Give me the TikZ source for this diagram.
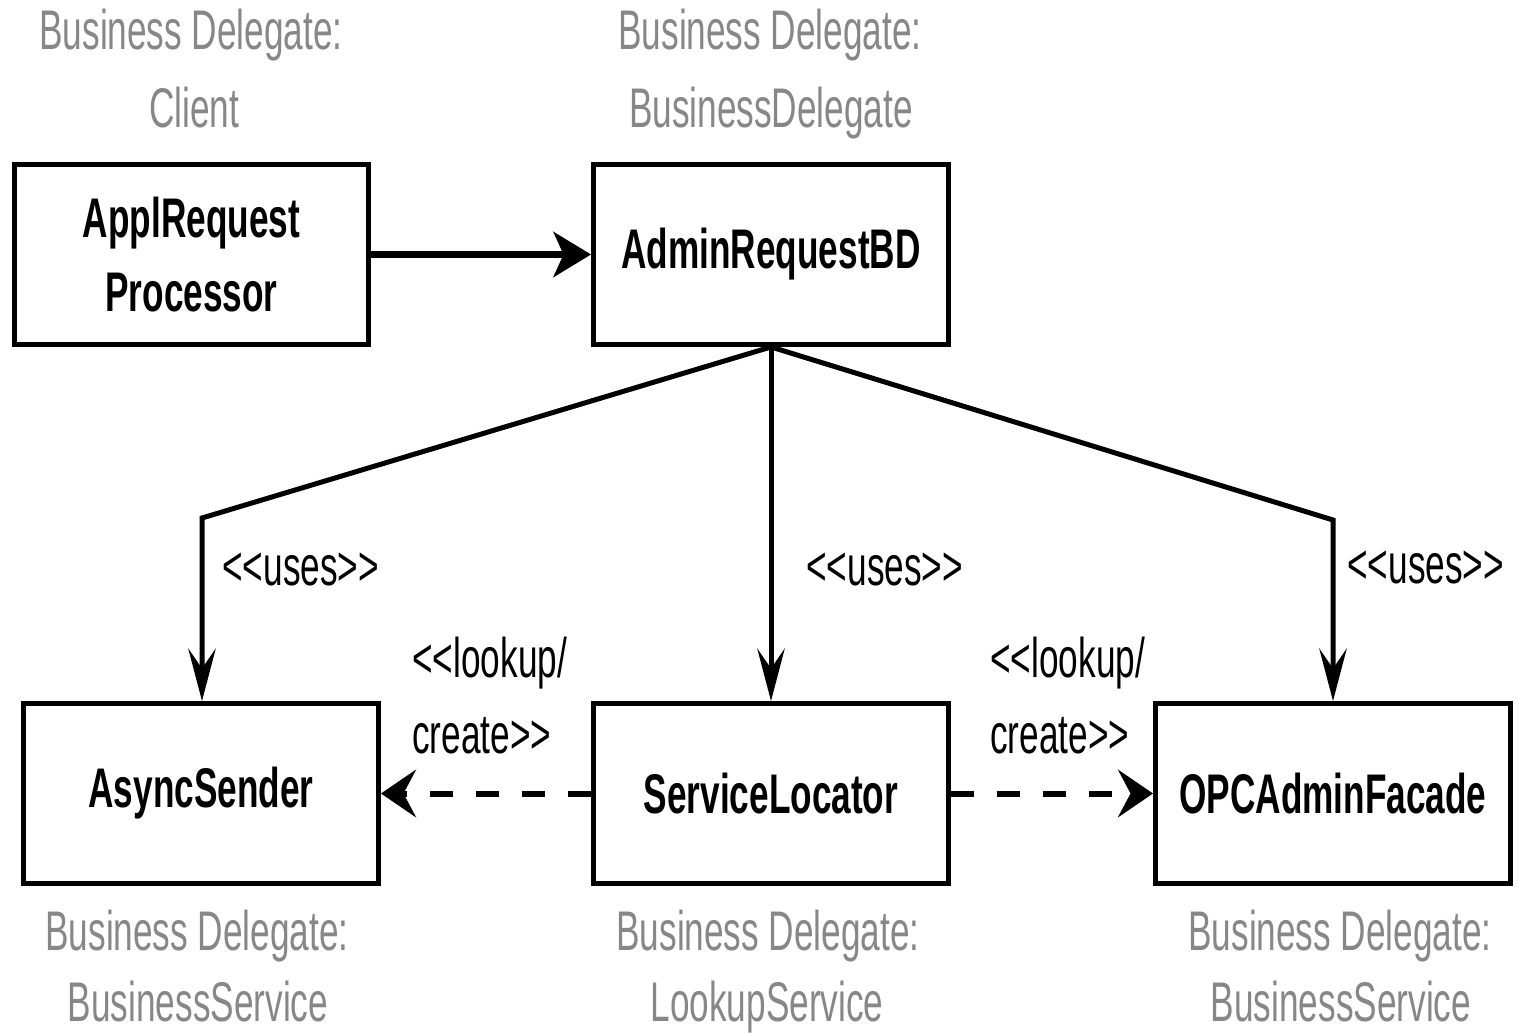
\documentclass[tikz,border=0pt]{standalone}
\usepackage{fontspec}
\setmainfont{Liberation Sans}
\newfontfamily\plainfont{Liberation Sans}
\usetikzlibrary{arrows.meta}
\definecolor{lblgray}{RGB}{135,135,135}
\newcommand{\nw}[1]{\scalebox{0.63}[1]{#1}}
\begin{document}
\begin{tikzpicture}[x=0.02cm, y=-0.02cm,
  boxnode/.style={draw, line width=0.1cm, minimum width=7.1cm, minimum height=3.6cm,
    inner sep=0pt, align=center, font=\fontsize{31.8pt}{42.5pt}\selectfont\bfseries},
  lbl/.style={text=lblgray, inner sep=0pt, anchor=base, font=\fontsize{31.8pt}{42.5pt}\selectfont},
  stereo/.style={text=black, inner sep=0pt, anchor=base west, font=\plainfont\fontsize{31.8pt}{42.5pt}\selectfont},
  usearrow/.style={line width=0.1cm, -{Stealth[length=1.05cm,width=0.55cm,inset=0.4cm]}},
  mainarrow/.style={line width=0.15cm, -{Stealth[length=0.75cm,width=0.9cm,inset=0.2cm]}},
  dasharrow/.style={line width=0.12cm, dash pattern=on 0.46cm off 0.46cm,
    -{Stealth[length=0.7cm,width=0.95cm,inset=0.25cm]}}
]
\useasboundingbox (0,0) rectangle (1518,1033);

% boxes
\node[boxnode] (appl)    at (191.5,254.5) {\nw{ApplRequest}\\\nw{Processor}};
\node[boxnode] (admin)   at (771,254.5)   {\nw{AdminRequestBD}};
\node[boxnode] (async)   at (201,793.5)   {\nw{AsyncSender}};
\node[boxnode] (locator) at (771,793.5)   {\nw{ServiceLocator}};
\node[boxnode] (facade)  at (1333,793.5)  {\nw{OPCAdminFacade}};

% gray role labels
\node[lbl] (l1a) at (191,50)   {\nw{Business Delegate:}};
\node[lbl] (l1b) at (194,128)  {\nw{Client}};
\node[lbl] (l2a) at (770,50)   {\nw{Business Delegate:}};
\node[lbl] (l2b) at (771,128)  {\nw{BusinessDelegate}};
\node[lbl] (l3a) at (197,950)  {\nw{Business Delegate:}};
\node[lbl] (l3b) at (198,1021) {\nw{BusinessService}};
\node[lbl] (l4a) at (768,950)  {\nw{Business Delegate:}};
\node[lbl] (l4b) at (767,1021) {\nw{LookupService}};
\node[lbl] (l5a) at (1340,950) {\nw{Business Delegate:}};
\node[lbl] (l5b) at (1341,1021){\nw{BusinessService}};

% stereotype labels
\node[stereo] (u1) at (222,585)  {\nw{<<uses>>}};
\node[stereo] (u2) at (806,585)  {\nw{<<uses>>}};
\node[stereo] (u3) at (1347,583) {\nw{<<uses>>}};
\node[stereo] (k1a) at (412,677) {\nw{<<lookup/}};
\node[stereo] (k1b) at (412,753) {\nw{create>>}};
\node[stereo] (k2a) at (990,677) {\nw{<<lookup/}};
\node[stereo] (k2b) at (990,753) {\nw{create>>}};

% bend points
\coordinate (bendL) at (202,518);
\coordinate (bendR) at (1333,520);

% connectors
\draw[mainarrow] (appl.east) -- (admin.west);
\draw[usearrow] (admin.south) -- (bendL) -- (bendL |- async.north);
\draw[usearrow] (admin.south) -- (locator.north);
\draw[usearrow] (admin.south) -- (bendR) -- (facade.north);
\draw[dasharrow] (locator.west) -- (async.east);
\draw[dasharrow] (locator.east) -- (facade.west);
\end{tikzpicture}
\end{document}
